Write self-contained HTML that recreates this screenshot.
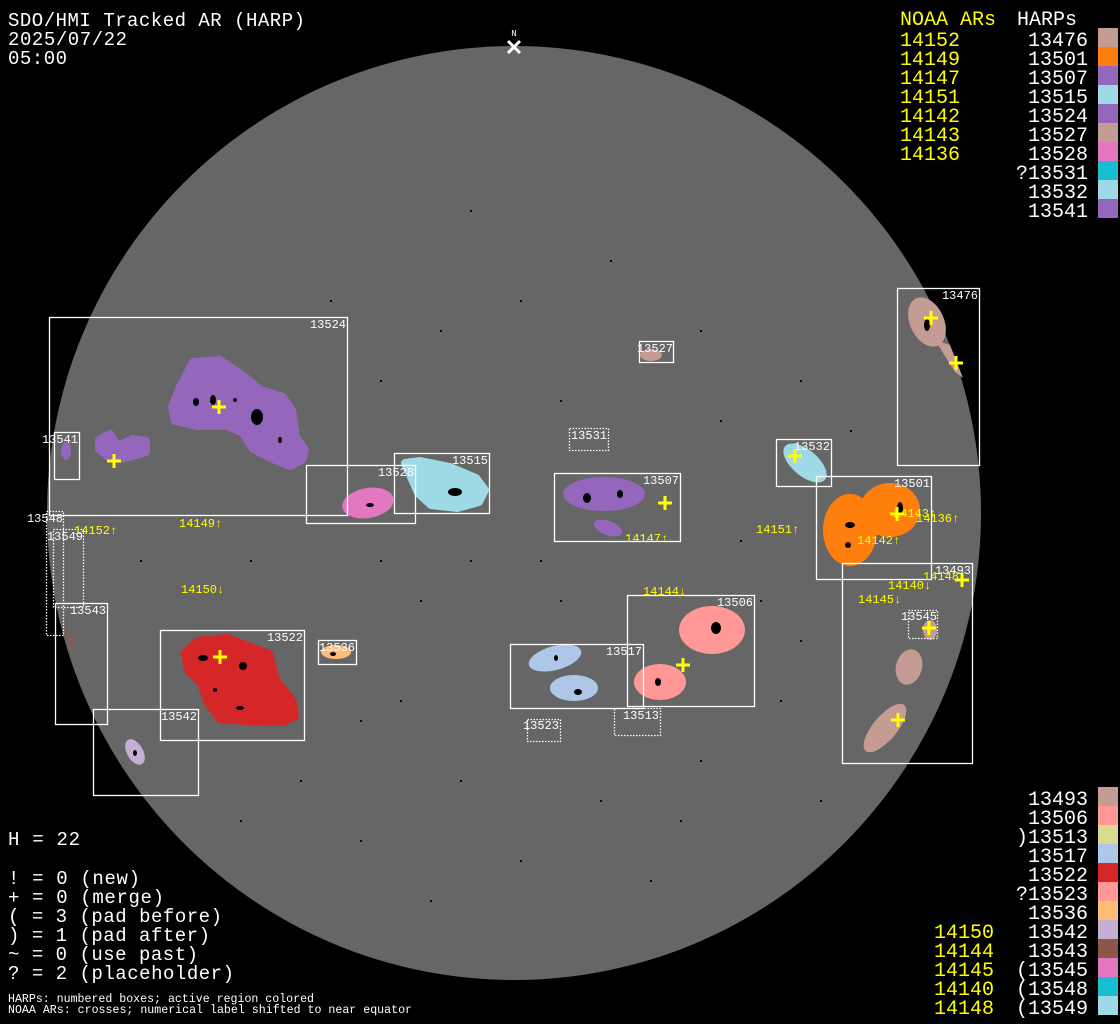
<!DOCTYPE html>
<html><head><meta charset="utf-8"><style>
html,body{margin:0;padding:0;background:#000;}
svg{display:block;}
text{font-family:"Liberation Mono","DejaVu Sans Mono",monospace;}
</style></head><body>
<svg width="1120" height="1024" viewBox="0 0 1120 1024" xmlns="http://www.w3.org/2000/svg">
<rect width="1120" height="1024" fill="#000"/>
<circle cx="514" cy="513" r="467" fill="#666"/>
<g fill="#000">
<rect x="470" y="210" width="2" height="2"/><rect x="520" y="300" width="2" height="2"/><rect x="610" y="260" width="2" height="2"/><rect x="700" y="330" width="2" height="2"/><rect x="380" y="380" width="2" height="2"/><rect x="560" y="400" width="2" height="2"/><rect x="720" y="420" width="2" height="2"/><rect x="420" y="600" width="2" height="2"/><rect x="470" y="560" width="2" height="2"/><rect x="560" y="600" width="2" height="2"/><rect x="400" y="700" width="2" height="2"/><rect x="460" y="780" width="2" height="2"/><rect x="600" y="800" width="2" height="2"/><rect x="700" y="760" width="2" height="2"/><rect x="780" y="700" width="2" height="2"/><rect x="300" y="780" width="2" height="2"/><rect x="250" y="560" width="2" height="2"/><rect x="140" y="560" width="2" height="2"/><rect x="800" y="380" width="2" height="2"/><rect x="850" y="430" width="2" height="2"/><rect x="760" y="600" width="2" height="2"/><rect x="520" y="860" width="2" height="2"/><rect x="360" y="840" width="2" height="2"/><rect x="650" y="880" width="2" height="2"/>
<rect x="330" y="300" width="2" height="2"/><rect x="440" y="330" width="2" height="2"/><rect x="540" y="560" width="2" height="2"/><rect x="380" y="560" width="2" height="2"/><rect x="740" y="540" width="2" height="2"/><rect x="800" y="640" width="2" height="2"/><rect x="360" y="720" width="2" height="2"/><rect x="240" y="820" width="2" height="2"/><rect x="680" y="820" width="2" height="2"/><rect x="820" y="800" width="2" height="2"/><rect x="430" y="900" width="2" height="2"/>
</g>
<g stroke-linejoin="round" stroke-width="8">
<polygon fill="#9467bd" stroke="#9467bd" points="172,407 180,387 193,362 220,360 245,377 260,390 283,397 292,410 296,437 305,450 302,460 290,466 273,459 253,449 243,433 227,426 197,426 175,421"/>
<polygon fill="#9467bd" stroke="#9467bd" points="99,440 110,434 117,446 133,439 146,441 146,452 133,456 120,459 107,456 99,449"/>
<polygon fill="#9edae5" stroke="#9edae5" points="405,463 420,461 450,467 476,478 485,490 479,502 457,508 431,505 418,493 411,477"/>
<polygon fill="#d62728" stroke="#d62728" points="185,653 198,641 227,638 253,648 269,654 276,680 292,700 295,716 283,722 247,721 220,719 208,703 201,683 188,670"/>
</g>
<ellipse cx="66" cy="451" rx="5" ry="9" fill="#9467bd"/>
<ellipse cx="368" cy="503" rx="26" ry="15" fill="#e377c2" transform="rotate(-10 368 503)"/>
<ellipse cx="651" cy="355" rx="11" ry="6" fill="#c49c94"/>
<ellipse cx="604" cy="494" rx="41" ry="17" fill="#9467bd"/>
<ellipse cx="608" cy="528" rx="15" ry="7" fill="#9467bd" transform="rotate(20 608 528)"/>
<ellipse cx="805" cy="463" rx="26" ry="13" fill="#9edae5" transform="rotate(40 805 463)"/>
<ellipse cx="850" cy="530" rx="27" ry="36" fill="#ff7f0e"/>
<ellipse cx="890" cy="510" rx="30" ry="27" fill="#ff7f0e"/>
<rect x="850" y="500" width="40" height="35" fill="#ff7f0e"/>
<ellipse cx="927" cy="322" rx="17" ry="26" fill="#c49c94" transform="rotate(-25 927 322)"/>
<polygon points="935,340 950,345 963,378 955,372" fill="#c49c94"/>
<ellipse cx="930" cy="630" rx="7" ry="10" fill="#c49c94"/>
<ellipse cx="909" cy="667" rx="13" ry="18" fill="#c49c94" transform="rotate(15 909 667)"/>
<ellipse cx="885" cy="728" rx="30" ry="12" fill="#c49c94" transform="rotate(-50 885 728)"/>
<ellipse cx="712" cy="630" rx="33" ry="24" fill="#ff9896"/>
<ellipse cx="660" cy="682" rx="26" ry="18" fill="#ff9896"/>
<ellipse cx="555" cy="658" rx="27" ry="12" fill="#aec7e8" transform="rotate(-15 555 658)"/>
<ellipse cx="574" cy="688" rx="24" ry="13" fill="#aec7e8"/>
<ellipse cx="336" cy="652" rx="15" ry="7" fill="#ffbb78"/>
<ellipse cx="135" cy="752" rx="8" ry="14" fill="#c5b0d5" transform="rotate(-30 135 752)"/>
<ellipse cx="70" cy="640" rx="3" ry="14" fill="#8c564b" transform="rotate(-20 70 640)" opacity="0.6"/>
<g fill="#000">
<ellipse cx="257" cy="417" rx="6" ry="8"/><ellipse cx="196" cy="402" rx="3" ry="4"/><ellipse cx="213" cy="400" rx="3" ry="5"/><ellipse cx="235" cy="400" rx="2" ry="2"/><ellipse cx="280" cy="440" rx="2" ry="3"/>
<ellipse cx="203" cy="658" rx="5" ry="3"/><ellipse cx="243" cy="666" rx="4" ry="4"/><ellipse cx="240" cy="708" rx="4" ry="2"/><ellipse cx="215" cy="690" rx="2" ry="2"/>
<ellipse cx="455" cy="492" rx="7" ry="4"/><ellipse cx="370" cy="505" rx="4" ry="2"/>
<ellipse cx="587" cy="498" rx="4" ry="5"/><ellipse cx="620" cy="494" rx="3" ry="4"/>
<ellipse cx="850" cy="525" rx="5" ry="3"/><ellipse cx="900" cy="508" rx="3" ry="6"/><ellipse cx="848" cy="545" rx="3" ry="3"/>
<ellipse cx="716" cy="628" rx="5" ry="6"/><ellipse cx="658" cy="682" rx="3" ry="4"/><ellipse cx="578" cy="692" rx="4" ry="3"/><ellipse cx="556" cy="658" rx="2" ry="3"/>
<ellipse cx="927" cy="325" rx="3" ry="6"/><ellipse cx="135" cy="753" rx="2" ry="3"/><ellipse cx="333" cy="654" rx="3" ry="2"/>
</g>
<g fill="none" stroke="#fff" stroke-width="1.3">
<rect x="49.5" y="317.5" width="298" height="198"/>
<rect x="54.5" y="432.5" width="25" height="47"/>
<rect x="306.5" y="465.5" width="109" height="58"/>
<rect x="394.5" y="453.5" width="95" height="60"/>
<rect x="639.5" y="341.5" width="34" height="21"/>
<rect x="554.5" y="473.5" width="126" height="68"/>
<rect x="776.5" y="439.5" width="55" height="47"/>
<rect x="816.5" y="476.5" width="115" height="103"/>
<rect x="897.5" y="288.5" width="82" height="177"/>
<rect x="842.5" y="563.5" width="130" height="200"/>
<rect x="627.5" y="595.5" width="127" height="111"/>
<rect x="510.5" y="644.5" width="133" height="64"/>
<rect x="318.5" y="640.5" width="38" height="24"/>
<rect x="160.5" y="630.5" width="144" height="110"/>
<rect x="93.5" y="709.5" width="105" height="86"/>
<rect x="55.5" y="603.5" width="52" height="121"/>
</g>
<g fill="none" stroke="#fff" stroke-width="1.3" stroke-dasharray="1.5,1.5">
<rect x="569.5" y="428.5" width="39" height="22"/>
<rect x="908.5" y="610.5" width="29" height="28"/>
<rect x="614.5" y="708.5" width="46" height="27"/>
<rect x="527.5" y="719.5" width="33" height="22"/>
<rect x="46.5" y="511.5" width="17" height="124"/>
<rect x="53.5" y="529.5" width="30" height="78"/>
</g>
<g fill="#fff" font-size="12" text-anchor="end">
<text x="346" y="328">13524</text><text x="78" y="443">13541</text><text x="414" y="476">13528</text><text x="488" y="464">13515</text>
<text x="673" y="352">13527</text><text x="607" y="439">13531</text><text x="679" y="484">13507</text><text x="830" y="450">13532</text>
<text x="930" y="487">13501</text><text x="978" y="299">13476</text><text x="971" y="574">13493</text><text x="937" y="620">13545</text>
<text x="753" y="606">13506</text><text x="642" y="655">13517</text><text x="659" y="719">13513</text><text x="559" y="729">13523</text>
<text x="355" y="651">13536</text><text x="303" y="641">13522</text><text x="197" y="720">13542</text><text x="106" y="614">13543</text>
<text x="63" y="522">13548</text><text x="83" y="540">13549</text>
</g>
<g stroke="#ff0" stroke-width="3">
<path d="M212,407h14M219,400v14 M107,461h14M114,454v14 M924,318h14M931,311v14 M949,363h14M956,356v14 M788,456h14M795,449v14 M890,514h14M897,507v14 M658,503h14M665,496v14 M676,665h14M683,658v14 M213,657h14M220,650v14 M955,580h14M962,573v14 M922,628h14M929,621v14 M891,720h14M898,713v14"/>
</g>
<g fill="#ff0" font-size="12">
<text x="74" y="534">14152↑</text><text x="179" y="527">14149↑</text><text x="181" y="593">14150↓</text><text x="625" y="542">14147↑</text>
<text x="756" y="533">14151↑</text><text x="857" y="544">14142↑</text><text x="893" y="517">14143↑</text><text x="916" y="522">14136↑</text>
<text x="643" y="595">14144↓</text><text x="888" y="589">14140↓</text><text x="923" y="580">14148↓</text><text x="858" y="603">14145↓</text>
</g>
<text x="514" y="36" fill="#fff" font-size="9" text-anchor="middle">N</text>
<path d="M508,41l12,12M520,41l-12,12" stroke="#fff" stroke-width="3"/>
<g fill="#fff" font-size="19">
<text x="8" y="26" textLength="297">SDO/HMI Tracked AR (HARP)</text><text x="8" y="45" textLength="119">2025/07/22</text><text x="8" y="64" textLength="59">05:00</text>
<text x="8" y="845" textLength="72">H = 22</text>
<text x="8" y="884" textLength="132">! = 0 (new)</text><text x="8" y="903" textLength="156">+ = 0 (merge)</text><text x="8" y="922" textLength="214">( = 3 (pad before)</text>
<text x="8" y="941" textLength="202">) = 1 (pad after)</text><text x="8" y="960" textLength="190">~ = 0 (use past)</text><text x="8" y="979" textLength="226">? = 2 (placeholder)</text>
</g>
<g fill="#fff" font-size="11.6">
<text x="8" y="1002" textLength="306">HARPs: numbered boxes; active region colored</text>
<text x="8" y="1013" textLength="404">NOAA ARs: crosses; numerical label shifted to near equator</text>
</g>
<g font-size="20">
<text x="900" y="25" fill="#ff0">NOAA ARs</text><text x="1017" y="25" fill="#fff">HARPs</text>
<g fill="#ff0"><text x="900" y="46">14152</text><text x="900" y="65">14149</text><text x="900" y="84">14147</text><text x="900" y="103">14151</text><text x="900" y="122">14142</text><text x="900" y="141">14143</text><text x="900" y="160">14136</text></g>
<g fill="#fff" text-anchor="end"><text x="1088" y="46">13476</text><text x="1088" y="65">13501</text><text x="1088" y="84">13507</text><text x="1088" y="103">13515</text><text x="1088" y="122">13524</text><text x="1088" y="141">13527</text><text x="1088" y="160">13528</text><text x="1088" y="179">?13531</text><text x="1088" y="198">13532</text><text x="1088" y="217">13541</text></g>
<g fill="#fff" text-anchor="end"><text x="1088" y="805">13493</text><text x="1088" y="824">13506</text><text x="1088" y="843">)13513</text><text x="1088" y="862">13517</text><text x="1088" y="881">13522</text><text x="1088" y="900">?13523</text><text x="1088" y="919">13536</text><text x="1088" y="938">13542</text><text x="1088" y="957">13543</text><text x="1088" y="976">(13545</text><text x="1088" y="995">(13548</text><text x="1088" y="1014">(13549</text></g>
<g fill="#ff0"><text x="934" y="938">14150</text><text x="934" y="957">14144</text><text x="934" y="976">14145</text><text x="934" y="995">14140</text><text x="934" y="1014">14148</text></g>
</g>
<g>
<rect x="1098" y="28" width="20" height="19" fill="#c49c94"/><rect x="1098" y="47" width="20" height="19" fill="#ff7f0e"/><rect x="1098" y="66" width="20" height="19" fill="#9467bd"/><rect x="1098" y="85" width="20" height="19" fill="#9edae5"/><rect x="1098" y="104" width="20" height="19" fill="#9467bd"/><rect x="1098" y="123" width="20" height="19" fill="#c49c94"/><rect x="1098" y="142" width="20" height="19" fill="#e377c2"/><rect x="1098" y="161" width="20" height="19" fill="#17becf"/><rect x="1098" y="180" width="20" height="19" fill="#9edae5"/><rect x="1098" y="199" width="20" height="19" fill="#9467bd"/>
<rect x="1098" y="787" width="20" height="19" fill="#c49c94"/><rect x="1098" y="806" width="20" height="19" fill="#ff9896"/><rect x="1098" y="825" width="20" height="19" fill="#dbdb8d"/><rect x="1098" y="844" width="20" height="19" fill="#aec7e8"/><rect x="1098" y="863" width="20" height="19" fill="#d62728"/><rect x="1098" y="882" width="20" height="19" fill="#ff9896"/><rect x="1098" y="901" width="20" height="19" fill="#ffbb78"/><rect x="1098" y="920" width="20" height="19" fill="#c5b0d5"/><rect x="1098" y="939" width="20" height="19" fill="#8c564b"/><rect x="1098" y="958" width="20" height="19" fill="#e377c2"/><rect x="1098" y="977" width="20" height="19" fill="#17becf"/><rect x="1098" y="996" width="20" height="19" fill="#9edae5"/>
</g>
</svg>
</body></html>
